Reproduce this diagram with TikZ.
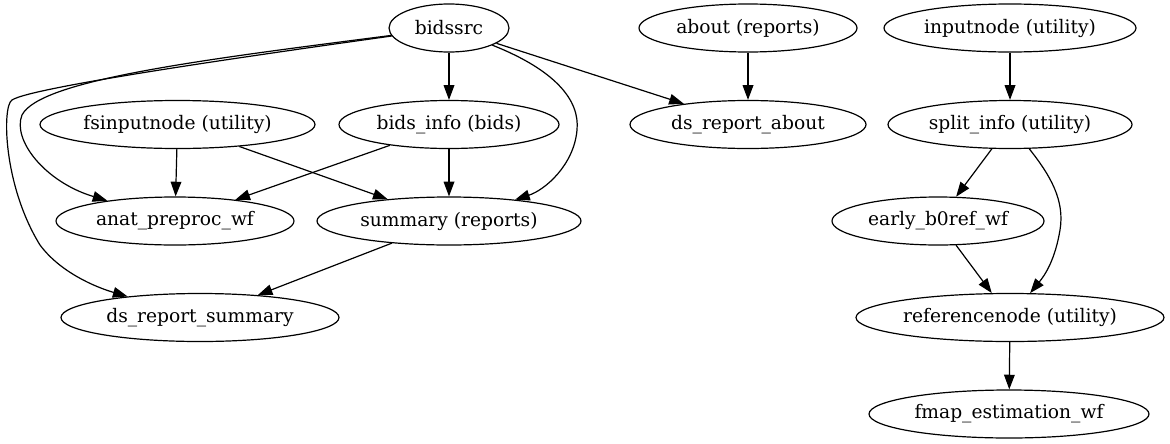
\documentclass[tikz,border=0pt]{standalone}
\usepackage{fontspec}
\setmainfont{DejaVu Serif}
\usetikzlibrary{arrows.meta,shapes.geometric}
\tikzset{
  gnode/.style={ellipse,draw,line width=0.9pt,inner sep=0pt,minimum height=36pt,minimum width=#1*1.5pt,font=\fontsize{14pt}{16pt}\selectfont},
  edge/.style={line width=0.9pt,-{Triangle[length=11pt,width=8pt]}}
}
\begin{document}
\begin{tikzpicture}[x=0.75pt,y=-0.75pt]
\useasboundingbox (0,0) rectangle (1170,443);
% row 1
\node[gnode=60] (bidssrc) at (449,28) {bidssrc};
\node[gnode=109] (about) at (748,28) {about (reports)};
\node[gnode=126] (inputnode) at (1010,28) {inputnode (utility)};
% row 2
\node[gnode=137.5] (fsin) at (177.5,124.5) {fsinputnode (utility)};
\node[gnode=110] (bidsinfo) at (449,124.5) {bids\_info (bids)};
\node[gnode=118] (dsabout) at (748,124.5) {ds\_report\_about};
\node[gnode=122] (split) at (1010,124.5) {split\_info (utility)};
% row 3
\node[gnode=119] (anat) at (175,221) {anat\_preproc\_wf};
\node[gnode=132] (summary) at (449,221) {summary (reports)};
\node[gnode=106] (early) at (938,221) {early\_b0ref\_wf};
% row 4
\node[gnode=139] (dssum) at (200,317.5) {ds\_report\_summary};
\node[gnode=154] (ref) at (1010,317.5) {referencenode (utility)};
% row 5
\node[gnode=140] (fmap) at (1009,414) {fmap\_estimation\_wf};
% edges
\draw[edge] (bidssrc) -- (bidsinfo);
\draw[edge] (bidssrc) -- (dsabout);
\draw[edge] (bidssrc) .. controls (555,70) and (580,100) .. (577,130) .. controls (574,165) and (545,190) .. (summary);
\draw[edge] (bidssrc) .. controls (200,60) and (40,80) .. (22,115) .. controls (12,140) and (45,182) .. (anat);
\draw[edge] (bidssrc) .. controls (220,60) and (30,88) .. (12,100) .. controls (2,106) and (3,185) .. (40,245) .. controls (60,272) and (95,287) .. (dssum);
\draw[edge] (about) -- (dsabout);
\draw[edge] (inputnode) -- (split);
\draw[edge] (fsin) -- (anat);
\draw[edge] (fsin) -- (summary);
\draw[edge] (bidsinfo) -- (anat);
\draw[edge] (bidsinfo) -- (summary);
\draw[edge] (summary) -- (dssum);
\draw[edge] (split) -- (early);
\draw[edge] (split) .. controls (1050,175) and (1065,200) .. (1060,230) .. controls (1055,260) and (1045,275) .. (ref);
\draw[edge] (early) -- (ref);
\draw[edge] (ref) -- (fmap);
\end{tikzpicture}
\end{document}
